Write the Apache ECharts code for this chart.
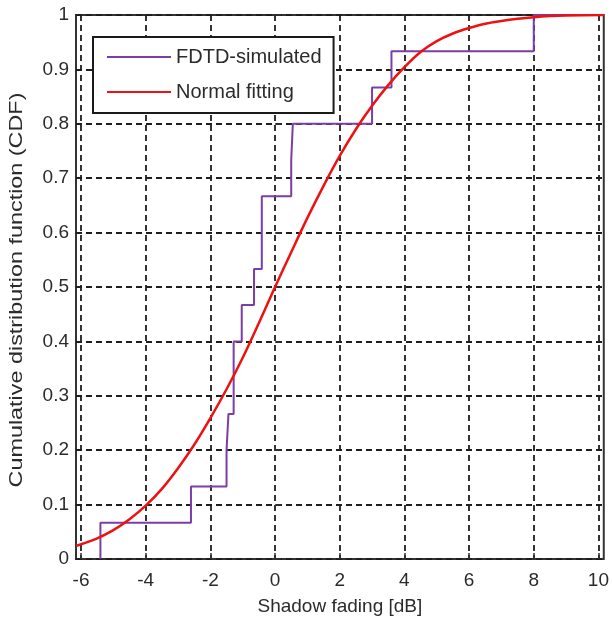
<!DOCTYPE html>
<html>
<head>
<meta charset="utf-8">
<script src="https://cdn.jsdelivr.net/npm/echarts@6/dist/echarts.min.js"></script>
<style>
  html, body { margin: 0; padding: 0; background: #ffffff; }
  #chart { width: 612px; height: 626px; }
</style>
</head>
<body>
<div id="chart"></div>
<script>
// Axis ticks
const xTicks = [-6, -4, -2, 0, 2, 4, 6, 8, 10];
const yTicks = [0, 0.1, 0.2, 0.3, 0.4, 0.5, 0.6, 0.7, 0.8, 0.9, 1];

// Empirical CDF of the FDTD shadow-fading samples (dB) and the level after each jump
const simX = [-5.4, -5.4, -2.6, -1.5, -1.44, -1.28, -1.03, -0.65, -0.41, 0.5, 0.55, 3.0, 3.6, 8.0, 10.165];
const simY = [0, 0.0667, 0.1333, 0.2, 0.2667, 0.4, 0.4667, 0.5333, 0.6667, 0.7333, 0.8, 0.8667, 0.9333, 1.0, 1.0];

// Fitted normal CDF
const fitX = [-6.155, -5.5, -5, -4.5, -4, -3.5, -3, -2.5, -2, -1.5, -1, -0.5, 0, 0.5, 1, 1.5, 2, 2.5, 3, 3.5, 4, 4.5, 5, 5.5, 6, 6.5, 7, 7.5, 8, 8.5, 9, 10.165];
const fitY = [0.024, 0.038, 0.053, 0.073, 0.098, 0.129, 0.167, 0.21, 0.259, 0.312, 0.37, 0.434, 0.5, 0.564, 0.627, 0.686, 0.741, 0.79, 0.833, 0.871, 0.904, 0.932, 0.952, 0.966, 0.976, 0.984, 0.989, 0.993, 0.996, 0.998, 0.999, 1.0];

const Y_TITLE = 'Cumulative distribution function (CDF)';
const X_TITLE = 'Shadow fading [dB]';

const FONT = "'Liberation Sans', Arial, sans-serif";
const TEXT = '#2b2b2b';

const pairs = (xs, ys) => xs.map((x, i) => [x, ys[i]]);

const chart = echarts.init(document.getElementById('chart'), null, { renderer: 'canvas' });

chart.setOption({
  backgroundColor: '#ffffff',
  animation: false,
  grid: {
    left: 76, top: 15, width: 530, height: 544,
    show: true, borderColor: '#333', borderWidth: 2, backgroundColor: '#fff'
  },
  legend: {
    left: 93, top: 37,
    orient: 'vertical',
    data: ['FDTD-simulated', 'Normal fitting'],
    backgroundColor: '#fff',
    borderColor: '#1a1a1a', borderWidth: 2, borderRadius: 0,
    padding: [10, 12, 11, 13],
    itemWidth: 64, itemHeight: 20, itemGap: 15,
    itemStyle: { opacity: 0 },
    textStyle: { fontFamily: FONT, fontSize: 20, color: TEXT, padding: [0, 0, 0, 0] }
  },
  // vertical axis title, stretched along its length
  graphic: [{
    type: 'text',
    x: 17, y: 290,
    rotation: Math.PI / 2,
    scaleX: 1.23,
    silent: true,
    style: {
      text: Y_TITLE,
      font: "19px 'Liberation Sans', Arial, sans-serif",
      fill: TEXT,
      align: 'center',
      verticalAlign: 'middle'
    }
  }],
  xAxis: {
    type: 'value',
    min: -6.155, max: 10.165,
    axisLine: { show: false },
    axisTick: { show: true, inside: true, length: 6, customValues: xTicks, lineStyle: { color: '#333', width: 1.5 } },
    axisLabel: { customValues: xTicks, fontFamily: FONT, fontSize: 19, color: TEXT, margin: 12 },
    splitLine: { show: true, lineStyle: { color: '#1e1e1e', width: 1.8, type: [6, 4] } },
    name: X_TITLE,
    nameLocation: 'middle', nameGap: 38,
    nameTextStyle: { fontFamily: FONT, fontSize: 19, color: TEXT }
  },
  yAxis: {
    type: 'value',
    min: 0, max: 1, interval: 0.1,
    axisLine: { show: false },
    axisTick: { show: true, inside: true, length: 6, lineStyle: { color: '#333', width: 1.5 } },
    axisLabel: {
      fontFamily: FONT, fontSize: 19, color: TEXT, margin: 7,
      formatter: v => String(+v.toFixed(1))
    },
    splitLine: { show: true, lineStyle: { color: '#1e1e1e', width: 1.8, type: [6, 4] } }
  },
  series: [
    {
      name: 'FDTD-simulated',
      type: 'line',
      step: 'end',
      symbol: 'none',
      data: pairs(simX, simY),
      lineStyle: { color: '#7a3fa6', width: 2 },
      itemStyle: { color: '#7a3fa6' },
      z: 3
    },
    {
      name: 'Normal fitting',
      type: 'line',
      smooth: 0.3,
      symbol: 'none',
      data: pairs(fitX, fitY),
      lineStyle: { color: '#ee1111', width: 2.5 },
      itemStyle: { color: '#ee1111' },
      z: 4
    }
  ]
});
</script>
</body>
</html>
